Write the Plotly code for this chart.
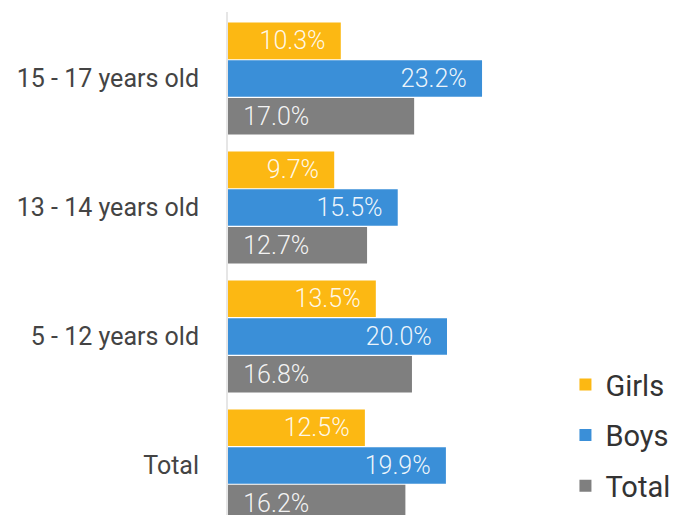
import plotly.graph_objects as go

categories = ["15 - 17 years old", "13 - 14 years old", "5 - 12 years old", "Total"]
girls = [10.3, 9.7, 13.5, 12.5]
boys = [23.2, 15.5, 20.0, 19.9]
total = [17.0, 12.7, 16.8, 16.2]

NB = "\u00a0\u00a0"
series = [
    ("Total", total, "#7f7f7f", "start", 3),
    ("Boys", boys, "#3a8fd8", "end", 2),
    ("Girls", girls, "#fcb813", "end", 1),
]

fig = go.Figure()
for name, vals, color, anchor, rank in series:
    if anchor == "start":
        labels = [NB + f"{v:.1f}%" for v in vals]
    else:
        labels = [f"{v:.1f}%" + NB for v in vals]
    fig.add_trace(go.Bar(
        name=name, y=categories, x=vals, orientation="h",
        marker=dict(color=color, line=dict(width=0)),
        text=labels,
        textposition="inside", insidetextanchor=anchor,
        textfont=dict(color="rgba(255,255,255,0.92)", size=25, family="Roboto", weight=300),
        legendgroup=name, legendrank=rank,
    ))

fig.update_layout(
    width=689, height=515,
    margin=dict(l=228, r=0, t=12, b=0, pad=0),
    paper_bgcolor="white", plot_bgcolor="white",
    barmode="group", bargap=0.124, bargroupgap=0.03,
    font=dict(family="Roboto", color="#444444"),
    showlegend=True,
    legend=dict(
        x=0.732, y=0.31, xanchor="left", yanchor="top",
        traceorder="grouped", tracegroupgap=10,
        font=dict(size=29, color="#333333", family="Roboto"),
        bgcolor="rgba(0,0,0,0)", itemwidth=30,
    ),
    xaxis=dict(range=[0, 461 / 10.95], visible=False, fixedrange=True),
    yaxis=dict(
        categoryorder="array", categoryarray=list(reversed(categories)),
        range=[-0.384, 3.516],
        showline=True, linecolor="#e6e6e6", linewidth=2,
        ticks="outside", ticklen=22, tickcolor="rgba(0,0,0,0)",
        tickfont=dict(size=25, color="#444444", family="Roboto"),
        showgrid=False, zeroline=False,
    ),
)

fig.write_html("out.html")
